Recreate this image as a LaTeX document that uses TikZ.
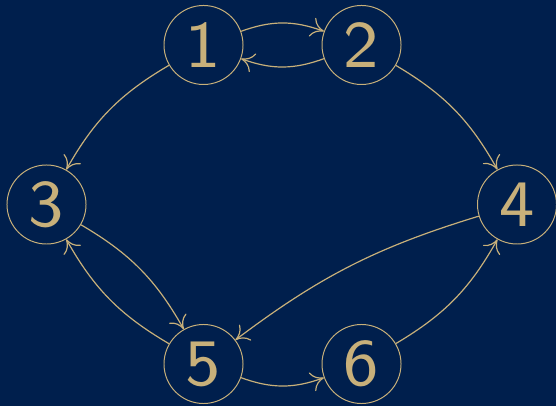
\documentclass[tikz,border=0pt]{standalone}
\usepackage{tikz}
\usepackage{graphicx}
\usetikzlibrary{arrows.meta}
\definecolor{navyBg}{RGB}{0,31,77}
\definecolor{goldFg}{RGB}{200,176,122}

\begin{document}
\begin{tikzpicture}[x=0.025cm, y=0.025cm, font=\sffamily]
  % background and page size
  \fill[navyBg] (0,0) rectangle (556,406);
  \useasboundingbox (0,0) rectangle (556,406);

  \tikzset{
    vert/.style={circle, draw=goldFg, text=goldFg, line width=0.7pt,
                 minimum size=1.975cm, inner sep=0pt,
                 font=\fontsize{8}{9}\selectfont\sffamily},
    arc/.style={-{To[length=9pt, width=14pt]}, draw=goldFg, line width=0.85pt}
  }

  % vertices
  \foreach \i/\x/\y in {1/203.5/361, 2/361.5/361, 3/46.5/201.5,
                        4/517/201.5, 5/203.5/42, 6/361.5/42} {
    \node[vert] (v\i) at (\x,\y) {\scalebox{5.9}{\i}};
  }

  % arcs (negative angle bends to the right)
  \foreach \a/\b/\bd in {1/2/20, 2/1/20, 1/3/-15, 2/4/15, 3/5/15,
                         5/3/15, 4/5/-10, 5/6/-20, 6/4/-15} {
    \draw[arc] (v\a) to[bend left=\bd] (v\b);
  }
\end{tikzpicture}
\end{document}
